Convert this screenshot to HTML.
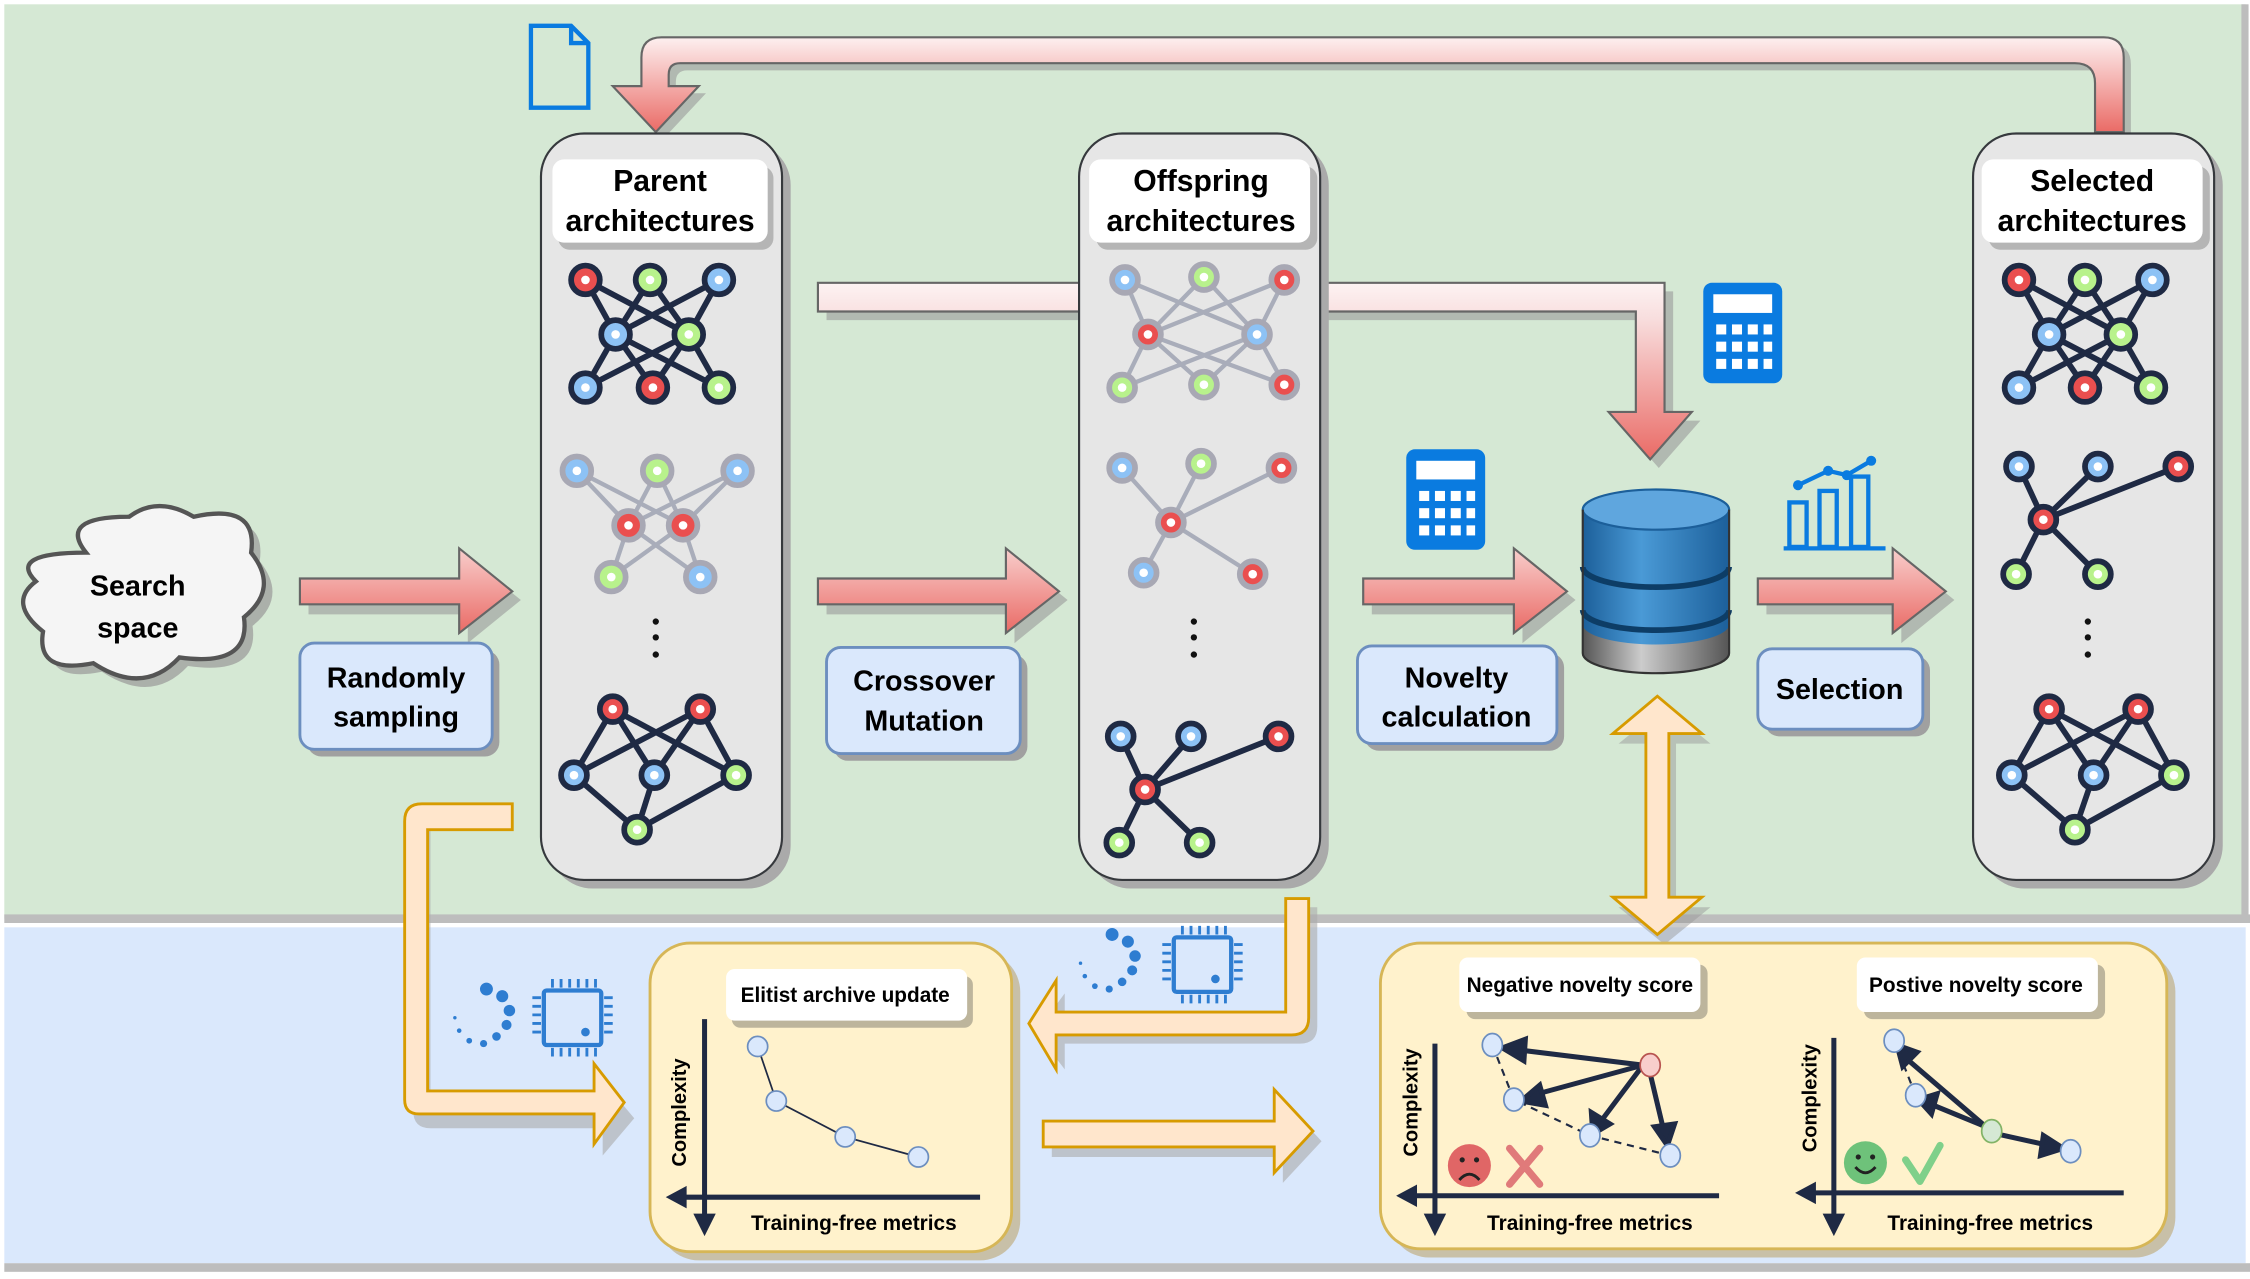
<!DOCTYPE html>
<html><head><meta charset="utf-8"><style>
html,body{margin:0;padding:0;background:#fff;}
svg{display:block;}
text{font-family:"Liberation Sans",sans-serif;font-weight:bold;fill:#000;}
</style></head><body>
<svg width="2250" height="1279" viewBox="0 0 1568 891" preserveAspectRatio="none" xmlns="http://www.w3.org/2000/svg">
<defs>
<linearGradient id="rg" x1="0" y1="0" x2="0" y2="1"><stop offset="0" stop-color="#f8cecc"/><stop offset="1" stop-color="#ea6b66"/></linearGradient>
<linearGradient id="rgv" x1="0" y1="0" x2="0" y2="1"><stop offset="0" stop-color="#fdf0f0"/><stop offset="1" stop-color="#ea6b66"/></linearGradient>
<linearGradient id="rgh" gradientUnits="userSpaceOnUse" x1="0" y1="197" x2="0" y2="320"><stop offset="0" stop-color="#fdf3f3"/><stop offset="0.2" stop-color="#f8dede"/><stop offset="1" stop-color="#ea6b66"/></linearGradient>
<linearGradient id="db" x1="0" y1="0" x2="1" y2="0"><stop offset="0" stop-color="#1c5f9a"/><stop offset="0.4" stop-color="#4a9ad6"/><stop offset="1" stop-color="#1c5f9a"/></linearGradient>
<linearGradient id="dbg" x1="0" y1="0" x2="1" y2="0"><stop offset="0" stop-color="#555"/><stop offset="0.4" stop-color="#ccc"/><stop offset="1" stop-color="#555"/></linearGradient>
</defs>
<rect x="0" y="0" width="1568" height="891" fill="#fff"/>
<rect x="3" y="3" width="1562" height="637" fill="#d5e8d4"/>
<rect x="3" y="637" width="1565" height="6" fill="#bdbdbd"/>
<rect x="1562" y="3" width="5" height="637" fill="#bdbdbd"/>
<rect x="3" y="646" width="1562" height="234" fill="#dae8fc"/>
<rect x="3" y="880" width="1565" height="6" fill="#bdbdbd"/>

<path d="M1470,95 L1470,58 Q1470,44 1456,44 L474,44 Q466,44 466,52 L466,60 L487,60 L457,92 L427,60 L447,60 L447,40 Q447,26 461,26 L1466,26 Q1480,26 1480,40 L1480,95 Z" fill="#999" transform="translate(5,5)" opacity="0.6"/>
<path d="M1460,92 L1460,58 Q1460,44 1446,44 L474,44 Q466,44 466,52 L466,60 L487,60 L457,92 L427,60 L447,60 L447,40 Q447,26 461,26 L1466,26 Q1480,26 1480,40 L1480,92 Z" fill="url(#rgv)" stroke="#666" stroke-width="1.5"/>

<path d="M370,18 L398,18 L410,30 L410,75 L370,75 Z M398,18 L398,30 L410,30" fill="none" stroke="#0a7be0" stroke-width="3"/>

<path d="M576,203 L1166,203 L1166,293 L1185,293 L1156,326 L1127,293 L1146,293 L1146,223 L576,223 Z" fill="#999" opacity="0.6"/>
<path d="M570,197 L1160,197 L1160,287 L1179,287 L1150,320 L1121,287 L1140,287 L1140,217 L570,217 Z" fill="url(#rgh)" stroke="#666" stroke-width="1.5"/>

<g>
<rect x="383" y="99" width="168" height="520" rx="30" fill="#aaa"/>
<rect x="377" y="93" width="168" height="520" rx="30" fill="#e6e6e6" stroke="#36393d" stroke-width="1.5"/>
<rect x="758" y="99" width="168" height="520" rx="30" fill="#aaa"/>
<rect x="752" y="93" width="168" height="520" rx="30" fill="#e6e6e6" stroke="#36393d" stroke-width="1.5"/>
<rect x="1381" y="99" width="168" height="520" rx="30" fill="#aaa"/>
<rect x="1375" y="93" width="168" height="520" rx="30" fill="#e6e6e6" stroke="#36393d" stroke-width="1.5"/>
</g>
<g>
<rect x="389" y="116" width="150" height="58" rx="8" fill="#b5b5b5"/>
<rect x="385" y="111" width="150" height="58" rx="8" fill="#fff"/>
<text x="460" y="133" font-size="21" text-anchor="middle">Parent</text>
<text x="460" y="161" font-size="21" text-anchor="middle">architectures</text>
<rect x="764" y="116" width="154" height="58" rx="8" fill="#b5b5b5"/>
<rect x="759" y="111" width="154" height="58" rx="8" fill="#fff"/>
<text x="837" y="133" font-size="21" text-anchor="middle">Offspring</text>
<text x="837" y="161" font-size="21" text-anchor="middle">architectures</text>
<rect x="1386" y="116" width="154" height="58" rx="8" fill="#b5b5b5"/>
<rect x="1381" y="111" width="154" height="58" rx="8" fill="#fff"/>
<text x="1458" y="133" font-size="21" text-anchor="middle">Selected</text>
<text x="1458" y="161" font-size="21" text-anchor="middle">architectures</text>
</g>

<g id="nets">
<g stroke="#1f2a44" stroke-width="4">
<line x1="408" y1="195" x2="480" y2="233"/><line x1="408" y1="195" x2="429" y2="233"/>
<line x1="453" y1="195" x2="429" y2="233"/><line x1="453" y1="195" x2="480" y2="233"/>
<line x1="501" y1="195" x2="429" y2="233"/><line x1="501" y1="195" x2="480" y2="233"/>
<line x1="429" y1="233" x2="408" y2="270"/><line x1="429" y1="233" x2="455" y2="270"/><line x1="429" y1="233" x2="501" y2="270"/>
<line x1="480" y1="233" x2="408" y2="270"/><line x1="480" y1="233" x2="455" y2="270"/><line x1="480" y1="233" x2="501" y2="270"/>
</g>
<g stroke="#9a9fb0" stroke-width="3" opacity="0.8">
<line x1="402" y1="328" x2="438" y2="366"/><line x1="402" y1="328" x2="476" y2="366"/>
<line x1="458" y1="328" x2="438" y2="366"/><line x1="458" y1="328" x2="476" y2="366"/>
<line x1="514" y1="328" x2="438" y2="366"/><line x1="514" y1="328" x2="476" y2="366"/>
<line x1="438" y1="366" x2="426" y2="402"/><line x1="438" y1="366" x2="488" y2="402"/>
<line x1="476" y1="366" x2="426" y2="402"/><line x1="476" y1="366" x2="488" y2="402"/>
</g>
<g stroke="#1f2a44" stroke-width="4">
<line x1="427" y1="494" x2="400" y2="540"/><line x1="427" y1="494" x2="456" y2="540"/><line x1="427" y1="494" x2="513" y2="540"/>
<line x1="488" y1="494" x2="400" y2="540"/><line x1="488" y1="494" x2="456" y2="540"/><line x1="488" y1="494" x2="513" y2="540"/>
<line x1="400" y1="540" x2="444" y2="578"/><line x1="456" y1="540" x2="444" y2="578"/><line x1="513" y1="540" x2="444" y2="578"/>
</g>
<g stroke="#9a9fb0" stroke-width="3" opacity="0.8">
<line x1="784" y1="195" x2="800" y2="233"/><line x1="784" y1="195" x2="876" y2="233"/>
<line x1="839" y1="193" x2="800" y2="233"/><line x1="839" y1="193" x2="876" y2="233"/>
<line x1="895" y1="195" x2="800" y2="233"/><line x1="895" y1="195" x2="876" y2="233"/>
<line x1="800" y1="233" x2="782" y2="270"/><line x1="800" y1="233" x2="839" y2="268"/><line x1="800" y1="233" x2="895" y2="268"/>
<line x1="876" y1="233" x2="782" y2="270"/><line x1="876" y1="233" x2="839" y2="268"/><line x1="876" y1="233" x2="895" y2="268"/>
</g>
<g stroke="#9a9fb0" stroke-width="3" opacity="0.8">
<line x1="782" y1="326" x2="816" y2="364"/><line x1="837" y1="323" x2="816" y2="364"/><line x1="893" y1="326" x2="816" y2="364"/>
<line x1="816" y1="364" x2="797" y2="399"/><line x1="816" y1="364" x2="873" y2="400"/>
</g>
<g stroke="#1f2a44" stroke-width="4">
<line x1="781" y1="513" x2="798" y2="550"/><line x1="830" y1="513" x2="798" y2="550"/><line x1="891" y1="513" x2="798" y2="550"/>
<line x1="798" y1="550" x2="780" y2="587"/><line x1="798" y1="550" x2="836" y2="587"/>
</g>
<g stroke="#1f2a44" stroke-width="4">
<line x1="1407" y1="195" x2="1478" y2="233"/><line x1="1407" y1="195" x2="1428" y2="233"/>
<line x1="1453" y1="195" x2="1428" y2="233"/><line x1="1453" y1="195" x2="1478" y2="233"/>
<line x1="1500" y1="195" x2="1428" y2="233"/><line x1="1500" y1="195" x2="1478" y2="233"/>
<line x1="1428" y1="233" x2="1407" y2="270"/><line x1="1428" y1="233" x2="1453" y2="270"/><line x1="1428" y1="233" x2="1499" y2="270"/>
<line x1="1478" y1="233" x2="1407" y2="270"/><line x1="1478" y1="233" x2="1453" y2="270"/><line x1="1478" y1="233" x2="1499" y2="270"/>
<line x1="1407" y1="325" x2="1424" y2="362"/><line x1="1462" y1="325" x2="1424" y2="362"/><line x1="1518" y1="325" x2="1424" y2="362"/>
<line x1="1424" y1="362" x2="1405" y2="400"/><line x1="1424" y1="362" x2="1462" y2="400"/>
<line x1="1428" y1="494" x2="1402" y2="540"/><line x1="1428" y1="494" x2="1459" y2="540"/><line x1="1428" y1="494" x2="1515" y2="540"/>
<line x1="1490" y1="494" x2="1402" y2="540"/><line x1="1490" y1="494" x2="1459" y2="540"/><line x1="1490" y1="494" x2="1515" y2="540"/>
<line x1="1402" y1="540" x2="1446" y2="578"/><line x1="1459" y1="540" x2="1446" y2="578"/><line x1="1515" y1="540" x2="1446" y2="578"/>
</g>
</g>
<g stroke="#1f2a44" stroke-width="4">
<circle cx="408" cy="195" r="10" fill="#ea4f4f"/><circle cx="453" cy="195" r="10" fill="#b8f28c"/><circle cx="501" cy="195" r="10" fill="#8dc2f5"/>
<circle cx="429" cy="233" r="10" fill="#8dc2f5"/><circle cx="480" cy="233" r="10" fill="#b8f28c"/>
<circle cx="408" cy="270" r="10" fill="#8dc2f5"/><circle cx="455" cy="270" r="10" fill="#ea4f4f"/><circle cx="501" cy="270" r="10" fill="#b8f28c"/>
<circle cx="427" cy="494" r="9" fill="#ea4f4f"/><circle cx="488" cy="494" r="9" fill="#ea4f4f"/>
<circle cx="400" cy="540" r="9" fill="#8dc2f5"/><circle cx="456" cy="540" r="9" fill="#8dc2f5"/><circle cx="513" cy="540" r="9" fill="#b8f28c"/>
<circle cx="444" cy="578" r="9" fill="#b8f28c"/>
<circle cx="781" cy="513" r="9" fill="#8dc2f5"/><circle cx="830" cy="513" r="9" fill="#8dc2f5"/><circle cx="891" cy="513" r="9" fill="#ea4f4f"/>
<circle cx="798" cy="550" r="9" fill="#ea4f4f"/><circle cx="780" cy="587" r="9" fill="#b8f28c"/><circle cx="836" cy="587" r="9" fill="#b8f28c"/>
<circle cx="1407" cy="195" r="10" fill="#ea4f4f"/><circle cx="1453" cy="195" r="10" fill="#b8f28c"/><circle cx="1500" cy="195" r="10" fill="#8dc2f5"/>
<circle cx="1428" cy="233" r="10" fill="#8dc2f5"/><circle cx="1478" cy="233" r="10" fill="#b8f28c"/>
<circle cx="1407" cy="270" r="10" fill="#8dc2f5"/><circle cx="1453" cy="270" r="10" fill="#ea4f4f"/><circle cx="1499" cy="270" r="10" fill="#b8f28c"/>
<circle cx="1407" cy="325" r="9" fill="#8dc2f5"/><circle cx="1462" cy="325" r="9" fill="#8dc2f5"/><circle cx="1518" cy="325" r="9" fill="#ea4f4f"/>
<circle cx="1424" cy="362" r="9" fill="#ea4f4f"/><circle cx="1405" cy="400" r="9" fill="#b8f28c"/><circle cx="1462" cy="400" r="9" fill="#b8f28c"/>
<circle cx="1428" cy="494" r="9" fill="#ea4f4f"/><circle cx="1490" cy="494" r="9" fill="#ea4f4f"/>
<circle cx="1402" cy="540" r="9" fill="#8dc2f5"/><circle cx="1459" cy="540" r="9" fill="#8dc2f5"/><circle cx="1515" cy="540" r="9" fill="#b8f28c"/>
<circle cx="1446" cy="578" r="9" fill="#b8f28c"/>
</g>
<g stroke="#a8a8b4" stroke-width="4">
<circle cx="402" cy="328" r="10" fill="#8dc2f5"/><circle cx="458" cy="328" r="10" fill="#b8f28c"/><circle cx="514" cy="328" r="10" fill="#8dc2f5"/>
<circle cx="438" cy="366" r="10" fill="#ea4f4f"/><circle cx="476" cy="366" r="10" fill="#ea4f4f"/>
<circle cx="426" cy="402" r="10" fill="#b8f28c"/><circle cx="488" cy="402" r="10" fill="#8dc2f5"/>
<circle cx="784" cy="195" r="9" fill="#8dc2f5"/><circle cx="839" cy="193" r="9" fill="#b8f28c"/><circle cx="895" cy="195" r="9" fill="#ea4f4f"/>
<circle cx="800" cy="233" r="9" fill="#ea4f4f"/><circle cx="876" cy="233" r="9" fill="#8dc2f5"/>
<circle cx="782" cy="270" r="9" fill="#b8f28c"/><circle cx="839" cy="268" r="9" fill="#b8f28c"/><circle cx="895" cy="268" r="9" fill="#ea4f4f"/>
<circle cx="782" cy="326" r="9" fill="#8dc2f5"/><circle cx="837" cy="323" r="9" fill="#b8f28c"/><circle cx="893" cy="326" r="9" fill="#ea4f4f"/>
<circle cx="816" cy="364" r="9" fill="#ea4f4f"/><circle cx="797" cy="399" r="9" fill="#8dc2f5"/><circle cx="873" cy="400" r="9" fill="#ea4f4f"/>
</g>
<g fill="#fff">
<circle cx="408" cy="195" r="3"/><circle cx="453" cy="195" r="3"/><circle cx="501" cy="195" r="3"/><circle cx="429" cy="233" r="3"/><circle cx="480" cy="233" r="3"/><circle cx="408" cy="270" r="3"/><circle cx="455" cy="270" r="3"/><circle cx="501" cy="270" r="3"/>
<circle cx="402" cy="328" r="3"/><circle cx="458" cy="328" r="3"/><circle cx="514" cy="328" r="3"/><circle cx="438" cy="366" r="3"/><circle cx="476" cy="366" r="3"/><circle cx="426" cy="402" r="3"/><circle cx="488" cy="402" r="3"/>
<circle cx="427" cy="494" r="3"/><circle cx="488" cy="494" r="3"/><circle cx="400" cy="540" r="3"/><circle cx="456" cy="540" r="3"/><circle cx="513" cy="540" r="3"/><circle cx="444" cy="578" r="3"/>
<circle cx="784" cy="195" r="3"/><circle cx="839" cy="193" r="3"/><circle cx="895" cy="195" r="3"/><circle cx="800" cy="233" r="3"/><circle cx="876" cy="233" r="3"/><circle cx="782" cy="270" r="3"/><circle cx="839" cy="268" r="3"/><circle cx="895" cy="268" r="3"/>
<circle cx="782" cy="326" r="3"/><circle cx="837" cy="323" r="3"/><circle cx="893" cy="326" r="3"/><circle cx="816" cy="364" r="3"/><circle cx="797" cy="399" r="3"/><circle cx="873" cy="400" r="3"/>
<circle cx="781" cy="513" r="3"/><circle cx="830" cy="513" r="3"/><circle cx="891" cy="513" r="3"/><circle cx="798" cy="550" r="3"/><circle cx="780" cy="587" r="3"/><circle cx="836" cy="587" r="3"/>
<circle cx="1407" cy="195" r="3"/><circle cx="1453" cy="195" r="3"/><circle cx="1500" cy="195" r="3"/><circle cx="1428" cy="233" r="3"/><circle cx="1478" cy="233" r="3"/><circle cx="1407" cy="270" r="3"/><circle cx="1453" cy="270" r="3"/><circle cx="1499" cy="270" r="3"/>
<circle cx="1407" cy="325" r="3"/><circle cx="1462" cy="325" r="3"/><circle cx="1518" cy="325" r="3"/><circle cx="1424" cy="362" r="3"/><circle cx="1405" cy="400" r="3"/><circle cx="1462" cy="400" r="3"/>
<circle cx="1428" cy="494" r="3"/><circle cx="1490" cy="494" r="3"/><circle cx="1402" cy="540" r="3"/><circle cx="1459" cy="540" r="3"/><circle cx="1515" cy="540" r="3"/><circle cx="1446" cy="578" r="3"/>
</g>
<g fill="#111">
<circle cx="457" cy="433" r="2.2"/><circle cx="457" cy="444" r="2.2"/><circle cx="457" cy="456" r="2.2"/>
<circle cx="832" cy="433" r="2.2"/><circle cx="832" cy="444" r="2.2"/><circle cx="832" cy="456" r="2.2"/>
<circle cx="1455" cy="433" r="2.2"/><circle cx="1455" cy="444" r="2.2"/><circle cx="1455" cy="456" r="2.2"/>
</g>

<path d="M60,385 Q40,360 90,360 Q110,345 135,360 Q180,350 175,385 Q195,410 170,430 Q175,465 125,458 Q100,485 65,462 Q25,470 30,440 Q5,420 25,405 Q5,385 60,385 Z" fill="#999" transform="translate(6,6)" opacity="0.7"/>
<path d="M60,385 Q40,360 90,360 Q110,345 135,360 Q180,350 175,385 Q195,410 170,430 Q175,465 125,458 Q100,485 65,462 Q25,470 30,440 Q5,420 25,405 Q5,385 60,385 Z" fill="#f5f5f5" stroke="#555" stroke-width="3"/>
<text x="96" y="415" font-size="20" text-anchor="middle">Search</text>
<text x="96" y="444" font-size="20" text-anchor="middle">space</text>

<g>
<path d="M215,410 L326,410 L326,388 L363,418 L326,448 L326,428 L215,428 Z" fill="#999" opacity="0.6"/>
<path d="M209,403 L320,403 L320,382 L357,412 L320,441 L320,421 L209,421 Z" fill="url(#rg)" stroke="#666" stroke-width="1.5"/>
<path d="M576,410 L707,410 L707,388 L744,418 L707,448 L707,428 L576,428 Z" fill="#999" opacity="0.6"/>
<path d="M570,403 L701,403 L701,382 L738,412 L701,441 L701,421 L570,421 Z" fill="url(#rg)" stroke="#666" stroke-width="1.5"/>
<path d="M956,410 L1061,410 L1061,388 L1098,418 L1061,448 L1061,428 L956,428 Z" fill="#999" opacity="0.6"/>
<path d="M950,403 L1055,403 L1055,382 L1092,412 L1055,441 L1055,421 L950,421 Z" fill="url(#rg)" stroke="#666" stroke-width="1.5"/>
<path d="M1231,410 L1325,410 L1325,388 L1362,418 L1325,448 L1325,428 L1231,428 Z" fill="#999" opacity="0.6"/>
<path d="M1225,403 L1319,403 L1319,382 L1356,412 L1319,441 L1319,421 L1225,421 Z" fill="url(#rg)" stroke="#666" stroke-width="1.5"/>
</g>

<g>
<rect x="214" y="453" width="134" height="74" rx="10" fill="#a0a0a0"/>
<rect x="209" y="448" width="134" height="74" rx="10" fill="#dae8fc" stroke="#6c8ebf" stroke-width="2"/>
<text x="276" y="479" font-size="20" text-anchor="middle">Randomly</text>
<text x="276" y="506" font-size="20" text-anchor="middle">sampling</text>
<rect x="581" y="456" width="135" height="74" rx="10" fill="#a0a0a0"/>
<rect x="576" y="451" width="135" height="74" rx="10" fill="#dae8fc" stroke="#6c8ebf" stroke-width="2"/>
<text x="644" y="481" font-size="20" text-anchor="middle">Crossover</text>
<text x="644" y="509" font-size="20" text-anchor="middle">Mutation</text>
<rect x="951" y="455" width="139" height="68" rx="10" fill="#a0a0a0"/>
<rect x="946" y="450" width="139" height="68" rx="10" fill="#dae8fc" stroke="#6c8ebf" stroke-width="2"/>
<text x="1015" y="479" font-size="20" text-anchor="middle">Novelty</text>
<text x="1015" y="506" font-size="20" text-anchor="middle">calculation</text>
<rect x="1230" y="457" width="115" height="56" rx="10" fill="#a0a0a0"/>
<rect x="1225" y="452" width="115" height="56" rx="10" fill="#dae8fc" stroke="#6c8ebf" stroke-width="2"/>
<text x="1282" y="487" font-size="20" text-anchor="middle">Selection</text>
</g>

<g>
<rect x="1187" y="197" width="55" height="70" rx="6" fill="#0a7be0"/>
<rect x="1194" y="205" width="41" height="13" fill="#fff"/>
<g fill="#fff">
<rect x="1196" y="226" width="7" height="7"/><rect x="1207" y="226" width="7" height="7"/><rect x="1218" y="226" width="7" height="7"/><rect x="1229" y="226" width="6" height="7"/>
<rect x="1196" y="238" width="7" height="7"/><rect x="1207" y="238" width="7" height="7"/><rect x="1218" y="238" width="7" height="7"/><rect x="1229" y="238" width="6" height="7"/>
<rect x="1196" y="250" width="7" height="7"/><rect x="1207" y="250" width="7" height="7"/><rect x="1218" y="250" width="7" height="7"/><rect x="1229" y="250" width="6" height="7"/>
</g>
<rect x="980" y="313" width="55" height="70" rx="6" fill="#0a7be0"/>
<rect x="987" y="321" width="41" height="13" fill="#fff"/>
<g fill="#fff">
<rect x="989" y="342" width="7" height="7"/><rect x="1000" y="342" width="7" height="7"/><rect x="1011" y="342" width="7" height="7"/><rect x="1022" y="342" width="6" height="7"/>
<rect x="989" y="354" width="7" height="7"/><rect x="1000" y="354" width="7" height="7"/><rect x="1011" y="354" width="7" height="7"/><rect x="1022" y="354" width="6" height="7"/>
<rect x="989" y="366" width="7" height="7"/><rect x="1000" y="366" width="7" height="7"/><rect x="1011" y="366" width="7" height="7"/><rect x="1022" y="366" width="6" height="7"/>
</g>
</g>
<g stroke="#0a7be0" stroke-width="3" fill="none">
<rect x="1247" y="350" width="12" height="31"/><rect x="1268" y="342" width="12" height="39"/><rect x="1290" y="332" width="12" height="49"/>
<line x1="1243" y1="382" x2="1314" y2="382"/>
<polyline points="1253,338 1274,328 1287,331 1304,321"/>
</g>
<g fill="#0a7be0"><circle cx="1253" cy="338" r="3.5"/><circle cx="1274" cy="328" r="3.5"/><circle cx="1287" cy="331" r="3.5"/><circle cx="1304" cy="321" r="3.5"/></g>

<g>
<path d="M1103,355 L1103,455 A51,14 0 0 0 1205,455 L1205,355 Z" fill="url(#db)"/>
<path d="M1103,435 L1103,455 A51,14 0 0 0 1205,455 L1205,435 A51,14 0 0 1 1103,435 Z" fill="url(#dbg)"/>
<path d="M1103,395 A51,14 0 0 0 1205,395" fill="none" stroke="#0d3d66" stroke-width="4"/>
<path d="M1103,425 A51,14 0 0 0 1205,425" fill="none" stroke="#0d3d66" stroke-width="4"/>
<ellipse cx="1154" cy="355" rx="51" ry="14" fill="#5fa6de" stroke="#1c5f9a" stroke-width="1.5"/>
<path d="M1103,355 L1103,455 A51,14 0 0 0 1205,455 L1205,355" fill="none" stroke="#333" stroke-width="1.5"/>
</g>

<path d="M1160,492 L1192,518 L1168,518 L1168,632 L1192,632 L1160,658 L1128,632 L1152,632 L1152,518 L1128,518 Z" fill="#999" opacity="0.5"/>
<path d="M1155,485 L1186,511 L1163,511 L1163,625 L1186,625 L1155,651 L1124,625 L1147,625 L1147,511 L1124,511 Z" fill="#ffe6cc" stroke="#d79b00" stroke-width="2"/>

<rect x="459" y="663" width="252" height="215" rx="28" fill="#c8c0a8"/>
<rect x="453" y="657" width="252" height="215" rx="28" fill="#fff2cc" stroke="#d6b656" stroke-width="2"/>
<rect x="968" y="663" width="548" height="213" rx="28" fill="#c8c0a8"/>
<rect x="962" y="657" width="548" height="213" rx="28" fill="#fff2cc" stroke="#d6b656" stroke-width="2"/>

<path d="M363,567 L300,567 L300,770 L420,770 L420,753 L442,779 L420,805 L420,786 L300,786 Q288,786 288,774 L288,575 Q288,567 296,567 Z" fill="#aaa" opacity="0.6"/>
<path d="M357,560 L294,560 Q282,560 282,572 L282,766 Q282,776 292,776 L414,776 L414,797 L435,768 L414,741 L414,760 L298,760 L298,578 L357,578 Z" fill="#ffe6cc" stroke="#d79b00" stroke-width="2"/>

<path d="M918,632 L918,715 Q918,727 906,727 L742,727 L742,745 L722,719 L742,692 L742,711 L902,711 L902,632 Z" fill="#aaa" opacity="0.6"/>
<path d="M912,626 L912,709 Q912,721 900,721 L736,721 L736,745 L717,713 L736,683 L736,705 L896,705 L896,626 Z" fill="#ffe6cc" stroke="#d79b00" stroke-width="2"/>

<path d="M733,788 L894,788 L894,766 L921,795 L894,824 L894,806 L733,806 Z" fill="#aaa" opacity="0.6"/>
<path d="M727,781 L888,781 L888,759 L915,788 L888,817 L888,799 L727,799 Z" fill="#ffe6cc" stroke="#d79b00" stroke-width="2"/>

<g stroke="#2e7dd1" stroke-width="3" fill="none">
<rect x="379" y="690" width="40" height="38" rx="2"/>
<rect x="818" y="653" width="40" height="38" rx="2"/>
</g>
<g stroke="#2e7dd1" stroke-width="2">
<path d="M385,682 v6 M391,682 v6 M397,682 v6 M403,682 v6 M409,682 v6 M415,682 v6 M385,730 v6 M391,730 v6 M397,730 v6 M403,730 v6 M409,730 v6 M415,730 v6 M371,695 h6 M371,701 h6 M371,707 h6 M371,713 h6 M371,719 h6 M421,695 h6 M421,701 h6 M421,707 h6 M421,713 h6 M421,719 h6"/>
<path d="M824,645 v6 M830,645 v6 M836,645 v6 M842,645 v6 M848,645 v6 M854,645 v6 M824,693 v6 M830,693 v6 M836,693 v6 M842,693 v6 M848,693 v6 M854,693 v6 M810,658 h6 M810,664 h6 M810,670 h6 M810,676 h6 M810,682 h6 M860,658 h6 M860,664 h6 M860,670 h6 M860,676 h6 M860,682 h6"/>
</g>
<g fill="#2e7dd1"><circle cx="408" cy="719" r="3"/><circle cx="847" cy="682" r="3"/></g>
<g fill="#2e7dd1">
<circle cx="339" cy="689" r="4.5"/><circle cx="350" cy="694" r="4.2"/><circle cx="355" cy="704" r="4"/><circle cx="353" cy="714" r="3.5"/><circle cx="346" cy="722" r="3"/><circle cx="337" cy="727" r="2.5"/><circle cx="327" cy="725" r="2"/><circle cx="320" cy="718" r="1.6"/><circle cx="317" cy="709" r="1.2"/>
<circle cx="775" cy="651" r="4.5"/><circle cx="786" cy="656" r="4.2"/><circle cx="791" cy="666" r="4"/><circle cx="789" cy="676" r="3.5"/><circle cx="782" cy="684" r="3"/><circle cx="773" cy="689" r="2.5"/><circle cx="763" cy="687" r="2"/><circle cx="756" cy="680" r="1.6"/><circle cx="753" cy="671" r="1.2"/>
</g>

<rect x="510" y="680" width="168" height="36" rx="6" fill="#bdb59c"/>
<rect x="506" y="675" width="168" height="36" rx="6" fill="#fff"/>
<text x="589" y="698" font-size="14.5" text-anchor="middle">Elitist archive update</text>
<g stroke="#1f2a44" stroke-width="3.5" fill="#1f2a44">
<line x1="491" y1="710" x2="491" y2="852"/><path d="M484,846 L491,860 L498,846 Z" stroke-width="1"/>
<line x1="683" y1="834" x2="474" y2="834"/><path d="M478,827 L465,834 L478,841 Z" stroke-width="1"/>
</g>
<polyline points="528,729 541,767 589,792 640,806" fill="none" stroke="#1f2a44" stroke-width="1.2"/>
<g fill="#dae8fc" stroke="#6c8ebf" stroke-width="1.2">
<circle cx="528" cy="729" r="7"/><circle cx="541" cy="767" r="7"/><circle cx="589" cy="792" r="7"/><circle cx="640" cy="806" r="7"/>
</g>
<text x="478" y="775" font-size="14" text-anchor="middle" transform="rotate(-90 478 775)">Complexity</text>
<text x="595" y="857" font-size="14.5" text-anchor="middle">Training-free metrics</text>

<rect x="1022" y="672" width="168" height="38" rx="6" fill="#bdb59c"/>
<rect x="1017" y="667" width="168" height="38" rx="6" fill="#fff"/>
<text x="1101" y="691" font-size="14.5" text-anchor="middle">Negative novelty score</text>
<rect x="1299" y="672" width="168" height="38" rx="6" fill="#bdb59c"/>
<rect x="1294" y="667" width="168" height="38" rx="6" fill="#fff"/>
<text x="1377" y="691" font-size="14.5" text-anchor="middle">Postive novelty score</text>

<g stroke="#1f2a44" stroke-width="3.5" fill="#1f2a44">
<line x1="1000" y1="727" x2="1000" y2="852"/><path d="M993,846 L1000,860 L1007,846 Z" stroke-width="1"/>
<line x1="1198" y1="833" x2="983" y2="833"/><path d="M987,826 L974,833 L987,840 Z" stroke-width="1"/>
<line x1="1278" y1="723" x2="1278" y2="852"/><path d="M1271,846 L1278,860 L1285,846 Z" stroke-width="1"/>
<line x1="1480" y1="831" x2="1261" y2="831"/><path d="M1265,824 L1252,831 L1265,838 Z" stroke-width="1"/>
</g>
<text x="988" y="768" font-size="14" text-anchor="middle" transform="rotate(-90 988 768)">Complexity</text>
<text x="1266" y="765" font-size="14" text-anchor="middle" transform="rotate(-90 1266 765)">Complexity</text>
<text x="1108" y="857" font-size="14.5" text-anchor="middle">Training-free metrics</text>
<text x="1387" y="857" font-size="14.5" text-anchor="middle">Training-free metrics</text>

<polyline points="1040,728 1055,766 1108,791 1164,805" fill="none" stroke="#1f2a44" stroke-width="1.5" stroke-dasharray="5,4"/>
<polyline points="1320,725 1335,763 1388,788 1443,802" fill="none" stroke="#1f2a44" stroke-width="1.5" stroke-dasharray="5,4"/>
<g stroke="#1f2a44" stroke-width="3.5" fill="#1f2a44" stroke-linejoin="miter">
<line x1="1145" y1="742" x2="1055" y2="731"/><path d="M1063,724 L1047,730 L1062,739 Z"/>
<line x1="1145" y1="742" x2="1068" y2="763"/><path d="M1073,756 L1060,767 L1077,770 Z"/>
<line x1="1145" y1="742" x2="1115" y2="782"/><path d="M1109,775 L1110,790 L1122,783 Z"/>
<line x1="1150" y1="748" x2="1160" y2="790"/><path d="M1153,785 L1162,798 L1167,783 Z"/>
<line x1="1384" y1="785" x2="1328" y2="737"/><path d="M1336,733 L1322,728 L1326,743 Z"/>
<line x1="1384" y1="785" x2="1345" y2="769"/><path d="M1350,762 L1337,766 L1346,776 Z"/>
<line x1="1392" y1="790" x2="1428" y2="798"/><path d="M1424,791 L1438,800 L1422,805 Z"/>
</g>
<g fill="#dae8fc" stroke="#6c8ebf" stroke-width="1.2">
<ellipse cx="1040" cy="728" rx="7" ry="8"/><ellipse cx="1055" cy="766" rx="7" ry="8"/><ellipse cx="1108" cy="791" rx="7" ry="8"/><ellipse cx="1164" cy="805" rx="7" ry="8"/>
<ellipse cx="1320" cy="725" rx="7" ry="8"/><ellipse cx="1335" cy="763" rx="7" ry="8"/><ellipse cx="1443" cy="802" rx="7" ry="8"/>
</g>
<ellipse cx="1150" cy="742" rx="7" ry="8" fill="#f8cecc" stroke="#b85450" stroke-width="1.2"/>
<ellipse cx="1388" cy="788" rx="7" ry="8" fill="#d5e8d4" stroke="#82b366" stroke-width="1.2"/>

<circle cx="1024" cy="812" r="15" fill="#e06666"/>
<circle cx="1019" cy="808" r="1.8" fill="#222"/><circle cx="1029" cy="808" r="1.8" fill="#222"/>
<path d="M1017,822 Q1024,814 1031,822" fill="none" stroke="#222" stroke-width="2"/>
<path d="M1052,800 L1073,825 M1073,800 L1052,825" stroke="#e07a7a" stroke-width="5" stroke-linecap="round"/>
<circle cx="1300" cy="810" r="15" fill="#6ec27a"/>
<circle cx="1295" cy="806" r="1.8" fill="#222"/><circle cx="1305" cy="806" r="1.8" fill="#222"/>
<path d="M1293,813 Q1300,821 1307,813" fill="none" stroke="#222" stroke-width="2"/>
<path d="M1328,808 L1338,823 L1352,798" fill="none" stroke="#7fd08a" stroke-width="5" stroke-linecap="round" stroke-linejoin="round"/>
</svg>
</body></html>
